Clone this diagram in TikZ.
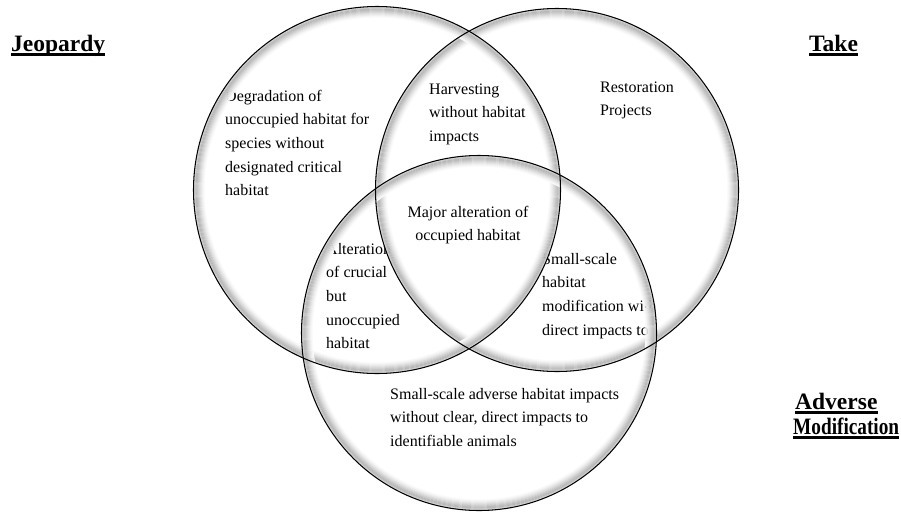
\documentclass[tikz,border=0pt]{standalone}
\usepackage{fontspec}
\setmainfont{Liberation Serif}
\newcommand\ringband[2]{%
  \foreach \d/\c in {11/2,10/4,9/7,8/10,7/14,6/18,5/22,4/26,3/28,2/24,1.2/16}{%
    \pgfmathsetmacro\rr{#2-\d}%
    \draw[line width=1.15pt, black!\c] (#1) circle[radius=\rr];
  }}
\newcommand\ringline[2]{%
  \pgfmathsetmacro\rr{#2-0.5}%
  \draw[line width=1.05pt, black] (#1) circle[radius=\rr];}
\begin{document}
\begin{tikzpicture}[x=1pt,y=-1pt,
  body/.style={inner sep=0pt, anchor=base west, font=\fontsize{16}{23.7}\selectfont},
  lbl/.style={inner sep=0pt, anchor=base west, font=\fontsize{23.5}{26}\selectfont\bfseries},
  uline/.style={line width=2.3pt}]
\fill[white] (0,0) rectangle (901,517);
\useasboundingbox (0,0) rectangle (901,517);

% circle centres
\coordinate (cTL) at (377,190);
\coordinate (cTR) at (557,190);
\coordinate (cB) at (479,333);

% region texts
\node[body] (degr) at (225,101) {\begin{tabular}[t]{@{}l@{}}Degradation of\\unoccupied habitat for\\species without\\designated critical\\habitat\end{tabular}};
\node[body] (harv) at (429,94) {\begin{tabular}[t]{@{}l@{}}Harvesting\\without habitat\\impacts\end{tabular}};
\node[body] (rest) at (600,92) {\begin{tabular}[t]{@{}l@{}}Restoration\\Projects\end{tabular}};
\node[body, anchor=base] (major) at (468,217) {\begin{tabular}[t]{@{}c@{}}Major alteration of\\occupied habitat\end{tabular}};
\node[body] (alt) at (326,254) {\begin{tabular}[t]{@{}l@{}}Alteration\\of crucial\\but\\unoccupied\\habitat\end{tabular}};
\node[body] (small) at (542,264) {\begin{tabular}[t]{@{}l@{}}Small-scale\\habitat\\modification with\\direct impacts to\end{tabular}};
\node[body] (adv) at (390,399) {\begin{tabular}[t]{@{}l@{}}Small-scale adverse habitat impacts\\without clear, direct impacts to\\identifiable animals\end{tabular}};

% glossy rings
\ringband{cTR}{182}
\ringband{cTL}{184}
\ringband{cB}{178}
\ringline{cTR}{182}
\ringline{cTL}{184}
\ringline{cB}{178}

% corner labels
\node[lbl] (jeo) at (11,51) {Jeopardy};
\draw[uline] ([yshift=-3.5pt]jeo.base west) -- ([yshift=-3.5pt]jeo.base east);
\node[lbl] (take) at (809,51) {Take};
\draw[uline] ([yshift=-3.5pt]take.base west) -- ([yshift=-3.5pt]take.base east);
\node[lbl] (adv1) at (795,409) {Adverse};
\draw[uline] ([yshift=-3.5pt]adv1.base west) -- ([yshift=-3.5pt]adv1.base east);
\node[lbl] (adv2) at (793,434) {\scalebox{0.82}[1]{Modification}};
\draw[uline] ([yshift=-3.5pt]adv2.base west) -- ([yshift=-3.5pt]adv2.base east);
\end{tikzpicture}
\end{document}
